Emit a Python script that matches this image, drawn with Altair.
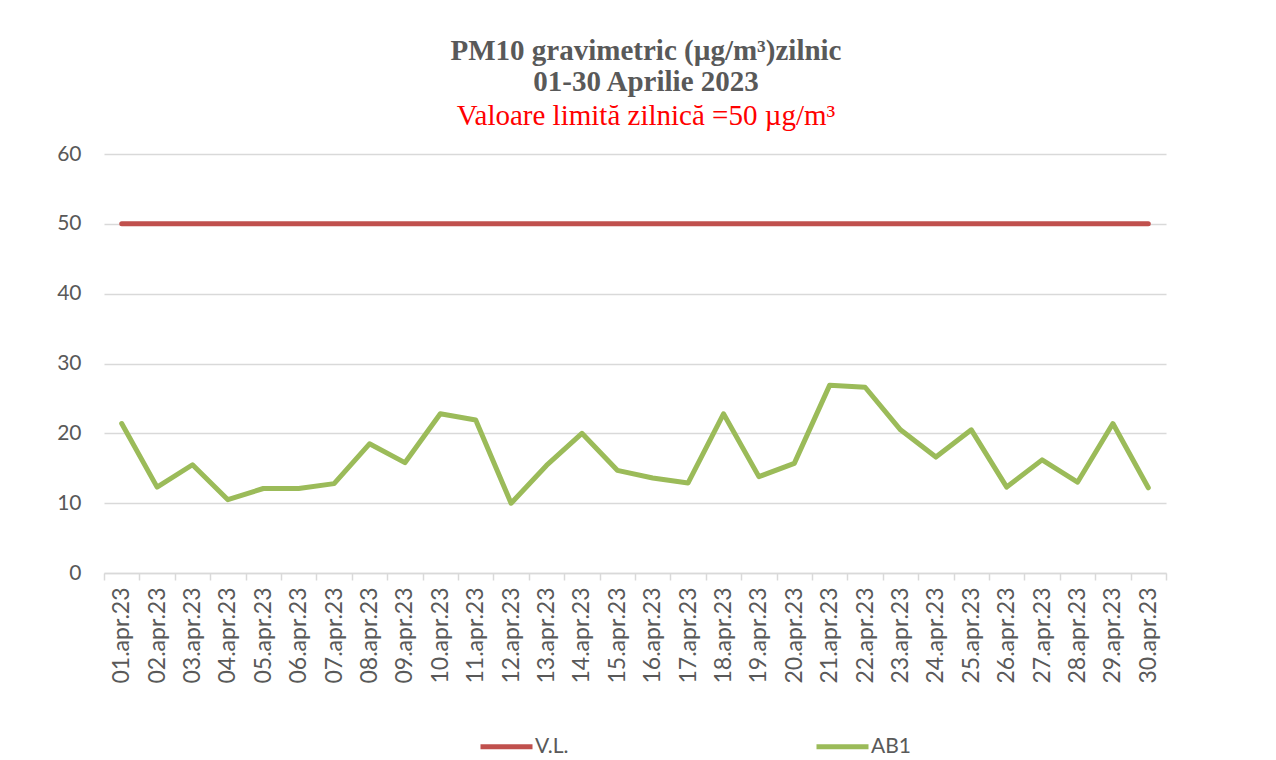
import altair as alt
import pandas as pd

days = [f"{d:02d}.apr.23" for d in range(1, 31)]
ab1 = [21.4, 12.3, 15.5, 10.5, 12.1, 12.1, 12.8, 18.5, 15.8, 22.8,
       21.9, 10.0, 15.4, 20.0, 14.7, 13.6, 12.9, 22.8, 13.8, 15.7,
       26.9, 26.6, 20.5, 16.6, 20.5, 12.3, 16.2, 13.0, 21.4, 12.2]
vl = [50] * 30
series_names = ["V.L.", "AB1"]
series_colors = ["#c0504d", "#9bbb59"]

rows = []
for d, v in zip(days, vl):
    rows.append({"zi": d, "valoare": v, "serie": "V.L."})
for d, v in zip(days, ab1):
    rows.append({"zi": d, "valoare": v, "serie": "AB1"})
df = pd.DataFrame(rows)

FONT = "Lato"
GREY = "#595959"
GRID = "#d9d9d9"

chart = alt.Chart(df).mark_line(strokeWidth=5, strokeCap="round", strokeJoin="round").encode(
    x=alt.X("zi:N", sort=days, title=None,
            scale=alt.Scale(type="band", paddingInner=0, paddingOuter=0),
            bandPosition=0.5,
            axis=alt.Axis(labelAngle=270, tickBand="extent", ticks=True, tickSize=7,
                          tickColor=GRID, tickWidth=1.5, domainColor=GRID, domainWidth=1.5,
                          labelColor=GREY, labelFont=FONT, labelFontSize=23, labelPadding=7,
                          grid=False)),
    y=alt.Y("valoare:Q", title=None,
            scale=alt.Scale(domain=[0, 60], nice=False),
            axis=alt.Axis(values=[0, 10, 20, 30, 40, 50, 60], domain=False, ticks=False,
                          gridColor=GRID, gridWidth=1.5, labelColor=GREY, labelFont=FONT,
                          labelFontSize=21, labelPadding=23)),
    color=alt.Color("serie:N", sort=series_names, title=None,
                    scale=alt.Scale(domain=series_names, range=series_colors),
                    legend=alt.Legend(orient="none", legendX=374, legendY=564,
                                      direction="horizontal", columns=2, columnPadding=237,
                                      symbolType="stroke", symbolSize=2704, symbolStrokeWidth=5,
                                      labelFont=FONT, labelFontSize=21, labelColor=GREY,
                                      labelOffset=0)),
).properties(
    width=1062,
    height=419,
    title=alt.TitleParams(
        text=["PM10 gravimetric (µg/m³)zilnic", "01-30 Aprilie 2023"],
        subtitle="Valoare limită zilnică =50 µg/m³",
        font="Liberation Serif", fontSize=29, fontWeight="bold", color=GREY,
        lineHeight=31,
        subtitleFont="Liberation Serif", subtitleFontSize=29, subtitleColor="#ff0000",
        subtitlePadding=5, subtitleLineHeight=31,
        anchor="middle", offset=12, dx=11,
    ),
    autosize=alt.AutoSizeParams(type="none"),
    padding={"left": 96, "top": 146, "right": 100, "bottom": 188},
).configure_view(stroke=None)

chart.save("out.html", embed_options={"renderer": "svg", "actions": False})
